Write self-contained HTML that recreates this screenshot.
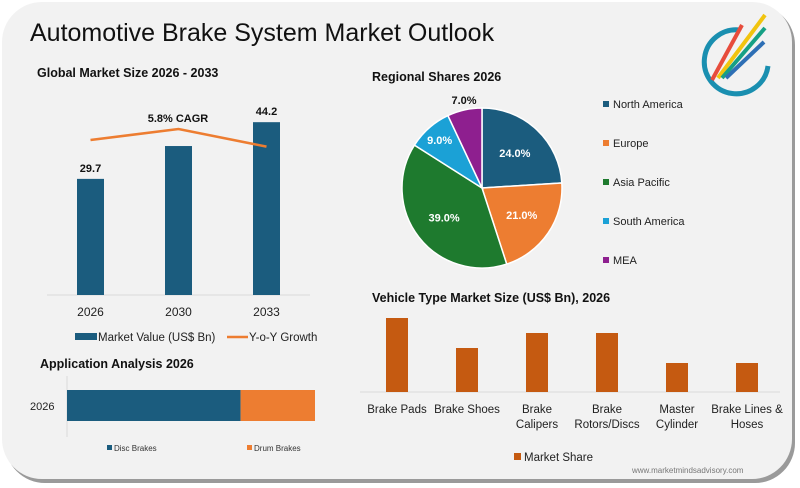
<!DOCTYPE html>
<html><head><meta charset="utf-8"><style>
body{margin:0;width:800px;height:488px;background:#fff;overflow:hidden;font-family:"Liberation Sans",sans-serif}
svg{display:block}
</style></head><body>
<svg id="s" width="800" height="488" viewBox="0 0 800 488">
<rect x="5" y="5" width="790" height="478" rx="40" fill="#9a9a9a"/>
<rect x="2" y="2" width="790" height="477" rx="40" fill="#f2f2f2"/>
<text x="30" y="41" font-size="25" fill="#111">Automotive Brake System Market Outlook</text>
<g>
<path d="M740 30 A32 32 0 1 0 768 66" fill="none" stroke="#1a8fb0" stroke-width="5"/>
<line x1="712" y1="80" x2="742" y2="25" stroke="#e74c3c" stroke-width="4"/>
<line x1="718" y1="78" x2="765" y2="15" stroke="#f1c40f" stroke-width="4"/>
<line x1="722" y1="78" x2="765" y2="28" stroke="#16a085" stroke-width="4"/>
<line x1="726" y1="78" x2="764" y2="42" stroke="#2e6fb5" stroke-width="4"/>
</g>
<text x="37" y="77" font-size="12.5" font-weight="bold" fill="#111">Global Market Size 2026 - 2033</text>
<g id="g1"></g>
<text x="372" y="81" font-size="12.5" font-weight="bold" fill="#111">Regional Shares 2026</text>
<g id="g2"></g>
<text x="372" y="302" font-size="12.5" font-weight="bold" fill="#111">Vehicle Type Market Size (US$ Bn), 2026</text>
<g id="g3"></g>
<text x="40" y="368" font-size="12.5" font-weight="bold" fill="#111">Application Analysis 2026</text>
<g id="g4"></g>
<text x="632" y="473" font-size="8" fill="#777">www.marketmindsadvisory.com</text>
</svg>
<script>
const years=["2026","2030","2033"];
const marketValues=[29.7,38.1,44.2];
const valueLabels=["29.7","","44.2"];
const growth=[5.4,5.9,5.1];
const regions=["North America","Europe","Asia Pacific","South America","MEA"];
const regionShares=[24,21,39,9,7];
const regionColors=["#1b5c7e","#ed7d31","#1e7a2e","#1ba1d6","#8e1f8f"];
const vehicleTypes=[["Brake Pads"],["Brake Shoes"],["Brake","Calipers"],["Brake","Rotors/Discs"],["Master","Cylinder"],["Brake Lines &","Hoses"]];
const vehicleValues=[7.4,4.4,5.9,5.9,2.9,2.9];
const appCategories=["Disc Brakes","Drum Brakes"];
const appShares=[70,30];
const NS="http://www.w3.org/2000/svg";
function mk(p,t,a,txt){const e=document.createElementNS(NS,t);for(const k in a)e.setAttribute(k,a[k]);if(txt!==undefined)e.textContent=txt;p.appendChild(e);return e;}
// chart 1
const g1=document.getElementById('g1');
const base1=295, sc1=3.91;
const x1=i=>90.5+i*88;
const yV=v=>base1-v*sc1;
const yG=v=>140-(v-5.4)*22;
let e=mk(g1,'line',{x1:47,y1:base1,x2:310,y2:base1,stroke:'#d9d9d9'});


marketValues.forEach((v,i)=>{
 let r=mk(g1,'rect',{x:x1(i)-13.5,y:yV(v),width:27,height:v*sc1,fill:'#1b5c7e'});
 
 
 if(valueLabels[i]){let t=mk(g1,'text',{x:x1(i),y:yV(v)-7,'font-size':11,'font-weight':'bold','text-anchor':'middle',fill:'#111'},valueLabels[i]);
 
 }
 let t2=mk(g1,'text',{x:x1(i),y:316,'font-size':12,'text-anchor':'middle',fill:'#222'},years[i]);
 
 
});
let pl=mk(g1,'polyline',{points:growth.map((v,i)=>x1(i)+','+yG(v)).join(' '),fill:'none',stroke:'#ed7d31','stroke-width':2.5});


e=mk(g1,'text',{x:178,y:122,'font-size':11,'font-weight':'bold','text-anchor':'middle',fill:'#111'},'5.8% CAGR');


e=mk(g1,'rect',{x:75,y:333,width:22,height:7,fill:'#1b5c7e'});


e=mk(g1,'text',{x:98,y:341,'font-size':11.5,fill:'#222'},'Market Value (US$ Bn)');


e=mk(g1,'line',{x1:227,y1:337,x2:248,y2:337,stroke:'#ed7d31','stroke-width':2.5});


e=mk(g1,'text',{x:249,y:341,'font-size':11.5,fill:'#222'},'Y-o-Y Growth');


// pie
const g2=document.getElementById('g2');
const cx=482,cy=188,R=80;
const tot=regionShares.reduce((a,b)=>a+b,0);
let ang=0;
regionShares.forEach((v,i)=>{
 const a0=ang, a1=ang+v/tot*2*Math.PI; ang=a1;
 const p=a=>[cx+R*Math.sin(a),cy-R*Math.cos(a)];
 const [sx,sy]=p(a0),[ex,ey]=p(a1);
 let s=mk(g2,'path',{d:`M${cx},${cy} L${sx},${sy} A${R},${R} 0 ${a1-a0>Math.PI?1:0} 1 ${ex},${ey} Z`,fill:regionColors[i],stroke:'#fff','stroke-width':1.5});
 
 
 const m=(a0+a1)/2;
 let lx=cx+R*0.6*Math.sin(m), ly=cy-R*0.6*Math.cos(m);
 if(i===4){lx=cx-18;ly=cy-R-8;}
 if(i===3){lx=cx+R*0.8*Math.sin(m);ly=cy-R*0.8*Math.cos(m);}
 let t=mk(g2,'text',{x:lx,y:ly+4,'font-size':11,'font-weight':'bold','text-anchor':'middle',fill:i===4?'#111':'#fff'},v.toFixed(1)+'%');
 
 
 let lr=mk(g2,'rect',{x:603,y:101+i*39,width:6,height:6,fill:regionColors[i]});
 
 
 let lt=mk(g2,'text',{x:613,y:108+i*39,'font-size':11,fill:'#222'},regions[i]);
 
 
});
// vehicle
const g3=document.getElementById('g3');
const base3=392, sc3=10;
const x3=i=>397+i*70;
e=mk(g3,'line',{x1:360,y1:base3,x2:780,y2:base3,stroke:'#d9d9d9'});


vehicleValues.forEach((v,i)=>{
 let r=mk(g3,'rect',{x:x3(i)-11,y:base3-v*sc3,width:22,height:v*sc3,fill:'#c55a11'});
 
 
 vehicleTypes[i].forEach((ln,j)=>{
  let t=mk(g3,'text',{x:x3(i),y:413+j*15,'font-size':11.5,'text-anchor':'middle',fill:'#222'},ln);
  
  
 });
});
e=mk(g3,'rect',{x:514,y:453,width:7,height:7,fill:'#c55a11'});


e=mk(g3,'text',{x:524,y:461,'font-size':11.5,fill:'#222'},'Market Share');


// application
const g4=document.getElementById('g4');
const x0=67, W=248;
e=mk(g4,'line',{x1:x0,y1:376,x2:x0,y2:437,stroke:'#d9d9d9'});


e=mk(g4,'text',{x:30,y:410,'font-size':11,fill:'#222'},'2026');


const appColors=['#1b5c7e','#ed7d31'];
const appTot=appShares.reduce((a,b)=>a+b,0);
let acc=0;
appShares.forEach((v,i)=>{
 let r=mk(g4,'rect',{x:x0+acc/appTot*W,y:390,width:v/appTot*W,height:31,fill:appColors[i]});
 acc+=v;
 
 
 let lr=mk(g4,'rect',{x:107+i*140,y:445,width:5,height:5,fill:appColors[i]});
 
 
 let lt=mk(g4,'text',{x:114+i*140,y:451,'font-size':8,fill:'#333'},appCategories[i]);
 
 
});
</script>
</body></html>
